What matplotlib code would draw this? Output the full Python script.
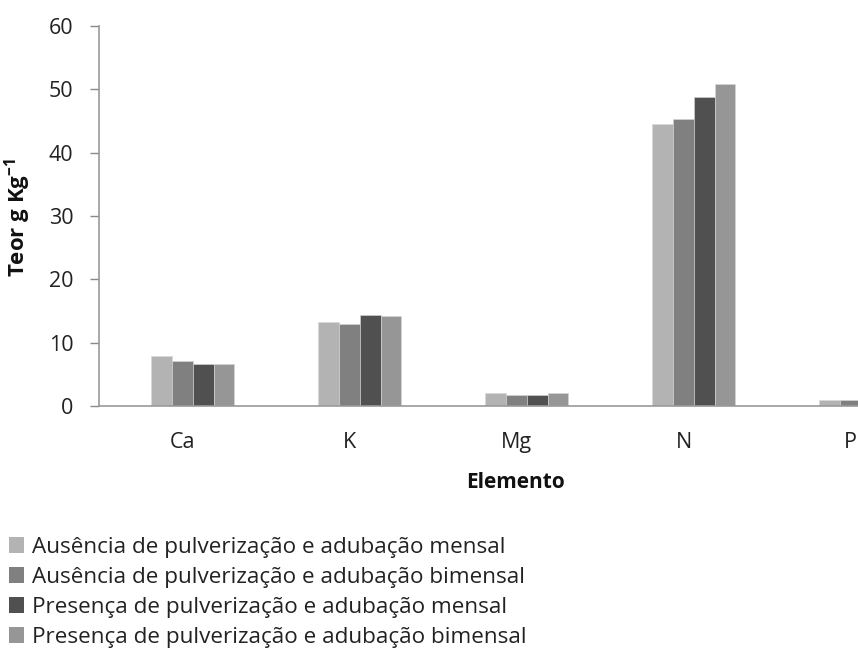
import numpy as np
import matplotlib
matplotlib.use("Agg")
import matplotlib.pyplot as plt
from matplotlib.patches import Patch

plt.rcParams['font.family'] = ['Open Sans', 'DejaVu Sans']
plt.rcParams['mathtext.fontset'] = 'custom'
plt.rcParams['mathtext.rm'] = 'Open Sans'
plt.rcParams['mathtext.bf'] = 'Open Sans:bold'

elementos = ["Ca", "K", "Mg", "N", "P"]
series = [
    "Ausência de pulverização e adubação mensal",
    "Ausência de pulverização e adubação bimensal",
    "Presença de pulverização e adubação mensal",
    "Presença de pulverização e adubação bimensal",
]
aus_mensal = [7.9, 13.2, 2.1, 44.5, 1.0]
aus_bimensal = [7.1, 13.0, 1.7, 45.3, 1.0]
pres_mensal = [6.7, 14.4, 1.7, 48.8, 1.0]
pres_bimensal = [6.7, 14.2, 2.1, 50.9, 1.0]
cores = ["#b3b3b3", "#808080", "#505050", "#969696"]

valores = [aus_mensal, aus_bimensal, pres_mensal, pres_bimensal]

fig = plt.figure(figsize=(8.58, 6.58), dpi=100)
# axis runs past the right edge of the picture, as in the original
ax = fig.add_axes([99/858, 252/658, 835/858, 380/658])

x = np.arange(len(elementos))
w = 0.124
# groups sit half a bar to the right of the category centre
for i, (v, c) in enumerate(zip(valores, cores)):
    ax.bar(x + (i - 1) * w, v, w, color=c, edgecolor="#d8d8d8", linewidth=0.4)

ax.set_xlim(-0.5, 4.5)
ax.set_ylim(0, 60)
ax.set_yticks(range(0, 61, 10))
ax.set_xticks(x)
ax.set_xticklabels(elementos)
ax.tick_params(axis="x", length=0, pad=19, labelsize=15.5, colors="#222222")
ax.tick_params(axis="y", length=6.5, width=1, color="#888888", pad=12,
               labelsize=15.5, labelcolor="#222222")
for s in ["top", "right"]:
    ax.spines[s].set_visible(False)
for s in ["left", "bottom"]:
    ax.spines[s].set_color("#999999")
    ax.spines[s].set_linewidth(1.2)

fig.text(516/858, 1 - 483/658, "Elemento", ha="center", va="center",
         fontsize=15, fontweight="bold", color="#111111")
fig.text(18/858, 1 - 218/658, r"Teor g Kg$^{\mathbf{-1}}$", ha="center", va="center",
         rotation=90, fontsize=16, fontweight="bold", color="#111111")

handles = [Patch(facecolor=c, edgecolor="none") for c in cores]
fig.legend(handles, series, loc="upper left", bbox_to_anchor=(9/858, 1 - 537/658),
           frameon=False, fontsize=16.2, handlelength=0.68, handleheight=0.68,
           handletextpad=0.33, labelspacing=0.4, borderaxespad=0, borderpad=0,
           labelcolor="#222222")

fig.savefig("out.png", dpi=100)
